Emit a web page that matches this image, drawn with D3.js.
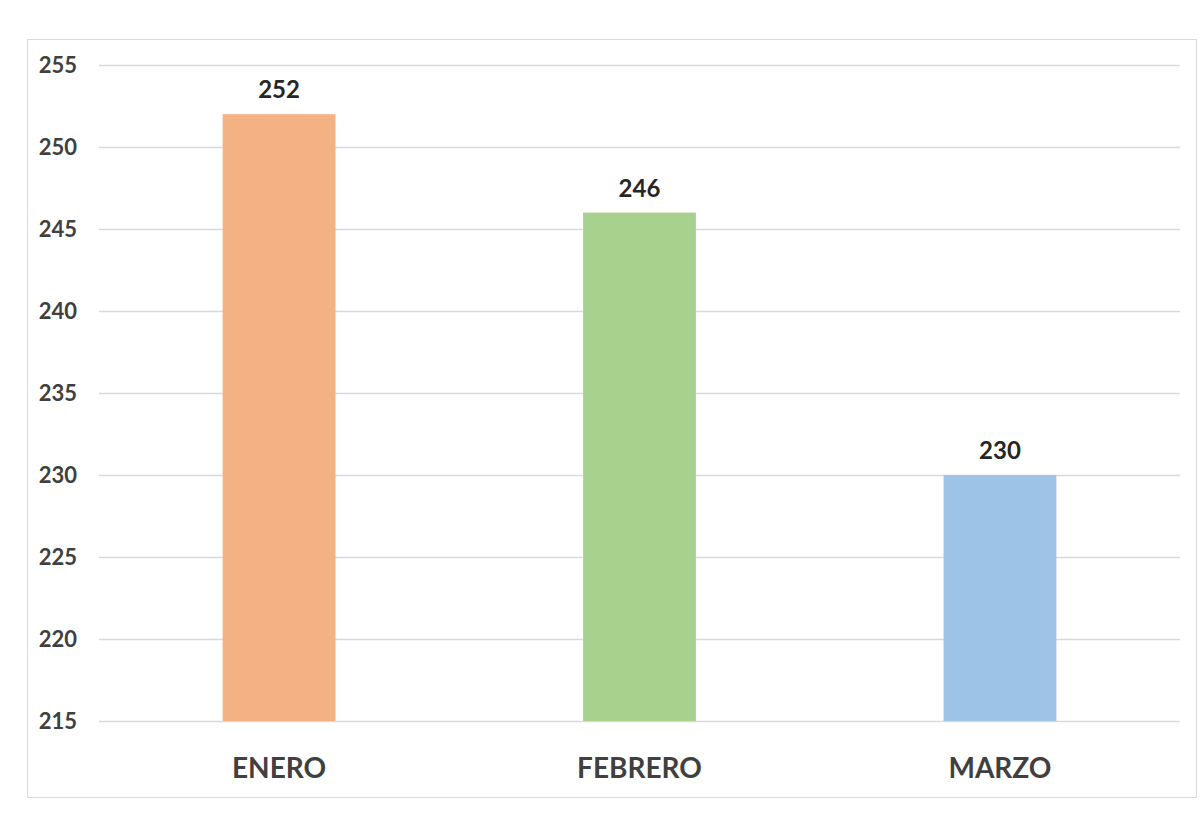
<!DOCTYPE html>
<html>
<head>
<meta charset="utf-8">
<script src="https://cdn.jsdelivr.net/npm/d3@7"></script>
<style>
  body { margin: 0; background: #fff; }
  text { font-family: Lato, "Open Sans", sans-serif; font-weight: bold; }
</style>
</head>
<body>
<div id="chart"></div>
<script>
// data
const months = ["ENERO", "FEBRERO", "MARZO"];
const values = [252, 246, 230];
const colors = ["#F4B183", "#A9D18E", "#9DC3E6"];
const yTicks = [215, 220, 225, 230, 235, 240, 245, 250, 255];

const svg = d3
  .select("#chart")
  .append("svg")
  .attr("width", 1200)
  .attr("height", 840);

// outer frame
svg
  .append("rect")
  .attr("x", 27.5)
  .attr("y", 39.5)
  .attr("width", 1169)
  .attr("height", 758)
  .attr("fill", "#fff")
  .attr("stroke", "#d9d9d9");

const margin = { top: 65, left: 99, right: 1180, bottom: 721 };

const x = d3
  .scaleBand()
  .domain(months)
  .range([margin.left, margin.right])
  .paddingInner(0.687)
  .paddingOuter(0.343);

const y = d3.scaleLinear().domain([215, 255]).range([margin.bottom, margin.top]);

// gridlines
svg
  .append("g")
  .selectAll("line")
  .data(yTicks)
  .enter()
  .append("line")
  .attr("x1", margin.left)
  .attr("x2", margin.right)
  .attr("y1", (d) => y(d) + 0.5)
  .attr("y2", (d) => y(d) + 0.5)
  .attr("stroke", "#d9d9d9")
  .attr("stroke-width", 1.3);

// y tick labels
svg
  .append("g")
  .selectAll("text")
  .data(yTicks)
  .enter()
  .append("text")
  .attr("x", 77)
  .attr("y", (d) => y(d) + 8)
  .attr("text-anchor", "end")
  .attr("font-size", 22)
  .attr("fill", "#404040")
  .text((d) => d);

// bars
svg
  .append("g")
  .selectAll("rect")
  .data(values)
  .enter()
  .append("rect")
  .attr("x", (d, i) => x(months[i]))
  .attr("y", (d) => y(d))
  .attr("width", x.bandwidth())
  .attr("height", (d) => y(215) - y(d))
  .attr("fill", (d, i) => colors[i]);

// value labels
svg
  .append("g")
  .selectAll("text")
  .data(values)
  .enter()
  .append("text")
  .attr("x", (d, i) => x(months[i]) + x.bandwidth() / 2)
  .attr("y", (d) => y(d) - 16)
  .attr("text-anchor", "middle")
  .attr("font-size", 24)
  .attr("fill", "#262626")
  .text((d) => d);

// category labels
svg
  .append("g")
  .selectAll("text")
  .data(months)
  .enter()
  .append("text")
  .attr("x", (d) => x(d) + x.bandwidth() / 2)
  .attr("y", 778)
  .attr("text-anchor", "middle")
  .attr("font-size", 28)
  .attr("fill", "#404040")
  .text((d) => d);
</script>
</body>
</html>
